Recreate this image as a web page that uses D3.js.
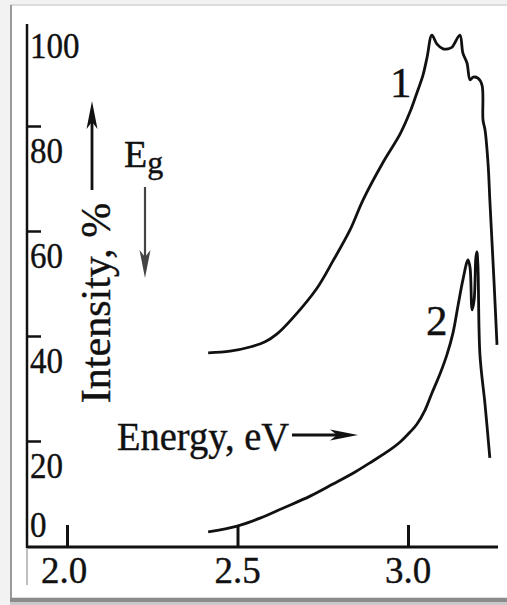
<!DOCTYPE html>
<html>
<head>
<meta charset="utf-8">
<script src="https://cdn.jsdelivr.net/npm/d3@7"></script>
<style>
  html, body { margin: 0; padding: 0; background: #fff; }
  svg { display: block; }
  text { font-family: "Liberation Serif", "Times New Roman", serif; fill: #111; stroke: #111; stroke-width: 0.4; }
</style>
</head>
<body>
<svg id="chart" width="507" height="605"></svg>
<script>
// Photoluminescence spectra: intensity (%) versus photon energy (eV)
const curve1Energy = [2.414, 2.478, 2.537, 2.581, 2.616, 2.663, 2.733, 2.780, 2.830, 2.868,
  2.927, 2.977, 3.006, 3.026, 3.044, 3.056, 3.070, 3.085, 3.103, 3.117, 3.129, 3.152,
  3.161, 3.173, 3.182, 3.191, 3.205, 3.217, 3.220, 3.226, 3.235, 3.240, 3.246, 3.252, 3.261];
const curve1Intensity = [36.8, 37.1, 37.9, 38.9, 40.4, 43.5, 49.1, 54.3, 60.2, 65.9,
  73.1, 78.5, 82.7, 86.3, 89.7, 93.1, 97.3, 95.6, 94.7, 94.7, 95.0, 97.3,
  93.9, 92.0, 88.8, 89.3, 89.1, 87.8, 81.1, 79.2, 72.6, 65.9, 58.3, 50.7, 38.3];

const curve2Energy = [2.414, 2.499, 2.566, 2.633, 2.713, 2.780, 2.845, 2.897, 2.947, 2.977,
  3.006, 3.026, 3.050, 3.070, 3.094, 3.114, 3.132, 3.147, 3.161, 3.176, 3.182, 3.188,
  3.194, 3.199, 3.202, 3.205, 3.211, 3.226, 3.240];
const curve2Intensity = [2.7, 3.8, 5.3, 7.2, 9.5, 11.8, 14.1, 16.2, 18.3, 19.8,
  21.7, 23.2, 25.9, 29.1, 32.8, 36.4, 40.6, 45.9, 50.7, 54.5, 53.0, 45.0,
  46.9, 54.9, 56.0, 53.5, 36.4, 26.9, 16.8];

const xTicks = [2.0, 2.5, 3.0];
const xTickLabels = ["2.0", "2.5", "3.0"];
const yTicks = [0, 20, 40, 60, 80, 100];
const yTickLabels = ["0", "20", "40", "60", "80", "100"];

const svg = d3.select("#chart");

// Frame around the figure
svg.append("rect").attr("x", 0).attr("y", 0).attr("width", 507).attr("height", 605).attr("fill", "#f2f2f2");
svg.append("rect").attr("x", 10).attr("y", 4).attr("width", 497).attr("height", 601).attr("fill", "#dcdcdc");
svg.append("rect").attr("x", 12).attr("y", 6).attr("width", 495).attr("height", 591).attr("fill", "#fff");
svg.append("line").attr("x1", 11).attr("x2", 11).attr("y1", 5).attr("y2", 598)
  .attr("stroke", "#9a9a9a").attr("stroke-width", 2);
svg.append("rect").attr("x", 10).attr("y", 598).attr("width", 497).attr("height", 4).attr("fill", "#8c8c8c");
svg.append("rect").attr("x", 10).attr("y", 602).attr("width", 497).attr("height", 3).attr("fill", "#c8c8c8");

// Scales
const x = d3.scaleLinear().domain([2.0, 3.0]).range([67, 408]);
const y = d3.scaleLinear().domain([0, 100]).range([546, 21]);

const xAxisStart = 1.883, xAxisEnd = 3.264;

// X axis: ticks point upward into the plot
const xAxis = d3.axisBottom(x)
  .tickValues(xTicks)
  .tickSizeInner(-22)
  .tickSizeOuter(0)
  .tickFormat("");
const gx = svg.append("g").attr("transform", "translate(0,547)").call(xAxis);
gx.select(".domain").remove();
gx.selectAll(".tick line").attr("stroke", "#111").attr("stroke-width", 3);
svg.append("line")
  .attr("x1", x(xAxisStart)).attr("x2", x(xAxisEnd))
  .attr("y1", 547).attr("y2", 547)
  .attr("stroke", "#111").attr("stroke-width", 3);

svg.selectAll(".xlabel").data(xTicks).join("text")
  .attr("class", "xlabel")
  .attr("x", (d, i) => x(d) - (i === 0 ? 3 : 0))
  .attr("y", 583)
  .attr("text-anchor", "middle")
  .attr("font-size", 37)
  .text((d, i) => xTickLabels[i]);

// Y axis: ticks point right, labels sit just under each tick
const yAxis = d3.axisLeft(y)
  .tickValues(yTicks.filter(v => v > 0 && v < 100))
  .tickSizeInner(-14)
  .tickSizeOuter(0)
  .tickFormat("");
const gy = svg.append("g").attr("transform", "translate(27,0)").call(yAxis);
gy.select(".domain").remove();
gy.selectAll(".tick line").attr("stroke", "#111").attr("stroke-width", 2.5);
svg.append("line")
  .attr("x1", 27).attr("x2", 27)
  .attr("y1", y(100) + 3).attr("y2", 548)
  .attr("stroke", "#111").attr("stroke-width", 2.5);
svg.append("line")
  .attr("x1", 27).attr("x2", 27)
  .attr("y1", 548).attr("y2", 585)
  .attr("stroke", "#aaa").attr("stroke-width", 1.5);

svg.selectAll(".ylabel").data(yTicks).join("text")
  .attr("class", "ylabel")
  .attr("x", 30)
  .attr("y", d => d === 0 ? y(d) - 9 : y(d) + 37)
  .attr("font-size", 36)
  .attr("textLength", d => String(d).length * 16.5)
  .attr("lengthAdjust", "spacingAndGlyphs")
  .text((d, i) => yTickLabels[i]);

// Curves
const line = d3.line().x(d => x(d[0])).y(d => y(d[1])).curve(d3.curveCatmullRom.alpha(0.5));
const series = [
  d3.zip(curve1Energy, curve1Intensity),
  d3.zip(curve2Energy, curve2Intensity)
];
svg.selectAll(".curve").data(series).join("path")
  .attr("class", "curve")
  .attr("d", line)
  .attr("fill", "none")
  .attr("stroke", "#111")
  .attr("stroke-width", 2.8)
  .attr("stroke-linejoin", "round");

// Curve numbers
svg.append("text").attr("x", 390).attr("y", 97).attr("font-size", 43).text("1");
svg.append("text").attr("x", 426).attr("y", 335).attr("font-size", 43).text("2");

// Arrows
function arrow(x1, y1, x2, y2, color, width) {
  const ang = Math.atan2(y2 - y1, x2 - x1);
  const len = 28, half = 5.5, notch = 21;
  const ux = Math.cos(ang), uy = Math.sin(ang);
  const px = -uy, py = ux;
  const bx = x2 - ux * len, by = y2 - uy * len;
  const nx = x2 - ux * notch, ny = y2 - uy * notch;
  svg.append("line")
    .attr("x1", x1).attr("y1", y1).attr("x2", nx).attr("y2", ny)
    .attr("stroke", color).attr("stroke-width", width);
  svg.append("path")
    .attr("d", `M${x2},${y2} L${bx + px * half},${by + py * half} L${nx},${ny} L${bx - px * half},${by - py * half} Z`)
    .attr("fill", color);
}
arrow(92, 190, 92, 101, "#111", 2.8);
arrow(145, 187, 145, 278, "#444", 2.2);
arrow(292, 435, 358, 435, "#111", 2.8);

// Axis titles
svg.append("text")
  .attr("transform", "translate(110,303) rotate(-90)")
  .attr("text-anchor", "middle")
  .attr("font-size", 42)
  .text("Intensity, %");

svg.append("text").attr("x", 117).attr("y", 450).attr("font-size", 39)
  .attr("textLength", 172).attr("lengthAdjust", "spacingAndGlyphs")
  .text("Energy, eV");

const eg = svg.append("text").attr("x", 124).attr("y", 167).attr("font-size", 38);
eg.append("tspan").text("E");
eg.append("tspan").attr("dy", 6).attr("font-size", 32).text("g");
</script>
</body>
</html>
